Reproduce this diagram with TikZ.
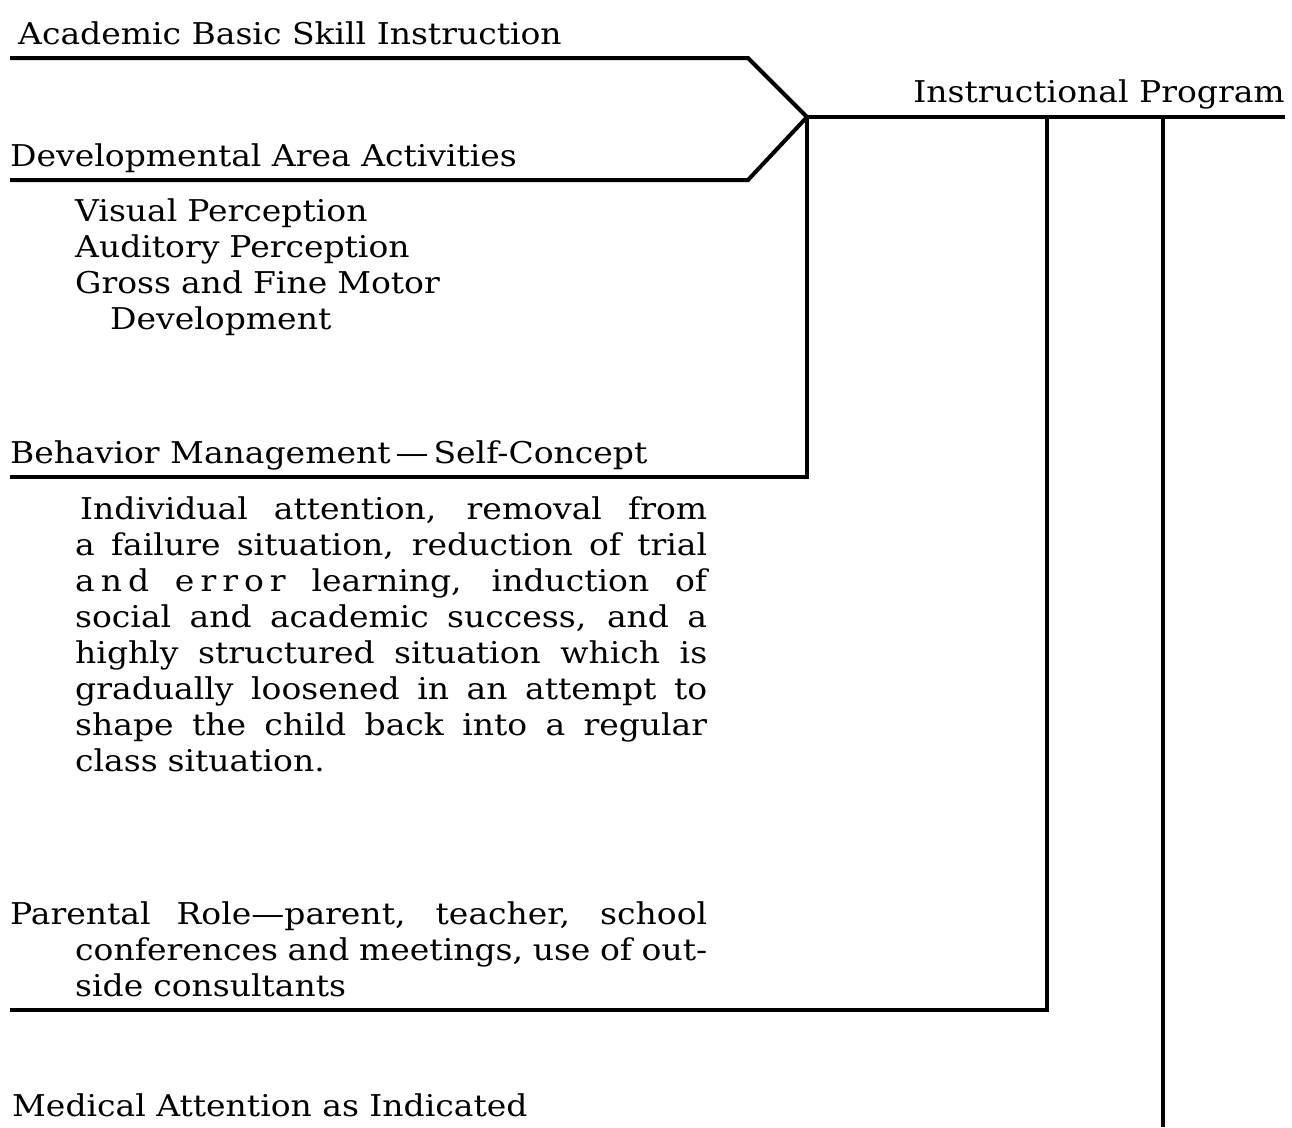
\documentclass[tikz,border=0pt]{standalone}
\usepackage{fontspec}
\setmainfont{DejaVu Serif}[FakeStretch=1.10]
\tikzset{
    heading/.style={anchor=base west, inner sep=0pt,
        font=\fontsize{30}{36}\selectfont},
    body/.style={anchor=base west, inner sep=0pt, align=left,
        font=\fontsize{30}{36}\selectfont},
    bar/.style={line width=4pt, line join=miter},
    }
\newcommand{\fullline}[2]{\leavevmode\hbox to #1{\spaceskip=0.3em plus 1fil\relax #2}}

\begin{document}
\begin{tikzpicture}[x=1pt,y=-1pt]
	\useasboundingbox (0,0) rectangle (1292,1127);
	% texts
	\node[heading] (academic) at (18,44) {Academic Basic Skill Instruction};
	\node[heading, anchor=base east] (program) at (1285,102) {Instructional Program};
	\node[heading] (developmental) at (10,166) {Developmental Area Activities};
	\node[body, text width=600pt] (areas) at (75,221) {Visual Perception\\Auditory Perception\\
		Gross and Fine Motor\\\hspace*{35pt}Development};
	\node[heading] (behavior) at (10,463) {Behavior Management\,---\,Self-Concept};
	\node[body, text width=632pt] (methods) at (75,519) {%
		\hspace*{5pt}\fullline{627pt}{Individual attention, removal from}\\
		\fullline{632pt}{a failure situation, reduction of trial}\\
		\fullline{632pt}{a\kern6pt n\kern6pt d e\kern6pt r\kern6pt r\kern6pt o\kern6pt r learning, induction of}\\
		\fullline{632pt}{social and academic success, and a}\\
		\fullline{632pt}{highly structured situation which is}\\
		\fullline{632pt}{gradually loosened in an attempt to}\\
		\fullline{632pt}{shape the child back into a regular}\\
		class situation.};
	\node[body, text width=697pt] (parental) at (10,924) {%
		\fullline{697pt}{Parental Role---parent, teacher, school}\\
		\hspace*{65pt}\fullline{632pt}{conferences and meetings, use of out-}\\
		\hspace*{65pt}side consultants};
	\node[heading] (medical) at (12,1116) {Medical Attention as Indicated};
	% joints and free ends
	\coordinate (hub) at (807,117);
	\coordinate (academic bend) at (748,58);
	\coordinate (academic end) at (10,58);
	\coordinate (developmental bend) at (748,180);
	\coordinate (developmental end) at (10,180);
	\coordinate (program end) at (1285,117);
	\coordinate (behavior bend) at (807,477);
	\coordinate (behavior end) at (10,477);
	\coordinate (parental top) at (1047,117);
	\coordinate (parental bend) at (1047,1010);
	\coordinate (parental end) at (10,1010);
	\coordinate (medical top) at (1163,117);
	\coordinate (medical end) at (1163,1127);
	% lines
	\draw[bar] (academic end) -- (academic bend) -- (hub);
	\draw[bar] (developmental end) -- (developmental bend) -- (hub);
	\draw[bar] (hub) -- (program end);
	\draw[bar] (hub) -- (behavior bend) -- (behavior end);
	\draw[bar] (parental top) -- (parental bend) -- (parental end);
	\draw[bar] (medical top) -- (medical end);
\end{tikzpicture}
\end{document}
